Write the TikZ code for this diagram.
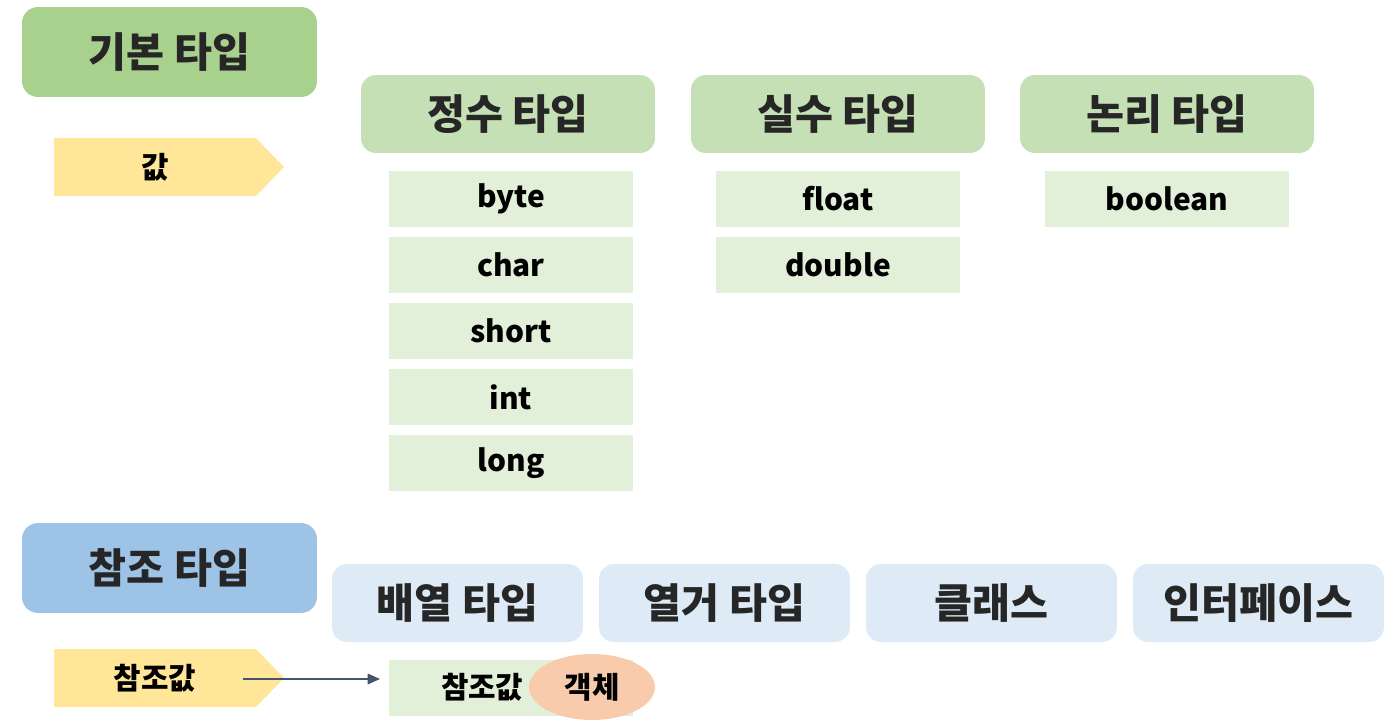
\documentclass[tikz,border=0pt]{standalone}
\usepackage{fontspec}
\setmainfont{Noto Sans CJK KR}
\usetikzlibrary{shapes.geometric, shapes.symbols, arrows.meta, positioning}
\definecolor{basegreen}{HTML}{A9D18E}
\definecolor{groupgreen}{HTML}{C5E0B4}
\definecolor{itemgreen}{HTML}{E2F0D9}
\definecolor{baseblue}{HTML}{9DC3E6}
\definecolor{groupblue}{HTML}{DEEBF7}
\definecolor{valyellow}{HTML}{FFE699}
\definecolor{objsalmon}{HTML}{F8CBAD}
\definecolor{headgray}{HTML}{262626}
\definecolor{arrowgray}{HTML}{44546A}
\tikzstyle{arrow} = [line width=0.9pt, draw=arrowgray, -{Triangle[length=7pt,width=6pt]}]
\tikzstyle{kindbox} = [rectangle, rounded corners=0.32cm, minimum width=5.9cm, minimum height=1.8cm, outer sep=0, text=headgray, font=\fontsize{23.5}{27}\selectfont\bfseries]
\tikzstyle{groupbox} = [rectangle, rounded corners=0.3cm, minimum width=5.88cm, minimum height=1.56cm, outer sep=0, fill=groupgreen, text=headgray, font=\fontsize{23.5}{27}\selectfont\bfseries]
\tikzstyle{itembox} = [rectangle, minimum width=4.88cm, minimum height=1.12cm, outer sep=0, fill=itemgreen, font=\fontsize{17}{20}\selectfont\bfseries]
\tikzstyle{refbox} = [rectangle, rounded corners=0.3cm, minimum width=5.02cm, minimum height=1.56cm, outer sep=0, fill=groupblue, text=headgray, font=\fontsize{23.5}{27}\selectfont\bfseries]
\tikzstyle{valuetag} = [signal, signal to=east, signal pointer angle=92, minimum width=4.6cm, minimum height=1.16cm, outer sep=0, fill=valyellow, font=\fontsize{17}{20}\selectfont\bfseries]
\begin{document}
\begin{tikzpicture}[x=0.02cm, y=-0.02cm]
	\useasboundingbox (0,0) rectangle (1399,727);
	% primitive types
	\node (basic) [kindbox, fill=basegreen] at (169.5,52) {기본 타입};
	\node (val) [valuetag] at (155,167) {값};
	\node (intt) [groupbox] at (508,114) {정수 타입};
	\node (realt) [groupbox] at (838,114) {실수 타입};
	\node (logict) [groupbox] at (1167,114) {논리 타입};
	\node (byte) [itembox, below=0.36cm of intt, xshift=0.06cm] {byte};
	\node (char) [itembox, below=0.2cm of byte] {char};
	\node (short) [itembox, below=0.2cm of char] {short};
	\node (int) [itembox, below=0.2cm of short] {int};
	\node (long) [itembox, below=0.2cm of int] {long};
	\node (float) [itembox, below=0.36cm of realt] {float};
	\node (double) [itembox, below=0.2cm of float] {double};
	\node (boolean) [itembox, below=0.36cm of logict] {boolean};
	% reference types
	\node (ref) [kindbox, fill=baseblue] at (169.5,568) {참조 타입};
	\node (arr) [refbox] at (457.5,603) {배열 타입};
	\node (enum) [refbox] at (724.5,603) {열거 타입};
	\node (cls) [refbox] at (991.5,603) {클래스};
	\node (iface) [refbox] at (1258.5,603) {인터페이스};
	\node (refval) [valuetag] at (155,678) {참조값};
	\node (refcell) [itembox, align=left, text width=2.8cm, inner xsep=1.04cm] at (511,687.5) {참조값};
	\node (obj) [ellipse, minimum width=2.52cm, minimum height=1.32cm, fill=objsalmon, font=\fontsize{17}{20}\selectfont\bfseries] at (592,687) {객체};
	\coordinate (refout) at (243,679);
	\draw [arrow, shorten >=0.18cm] (refout) -- (refout -| refcell.west);
\end{tikzpicture}
\end{document}
